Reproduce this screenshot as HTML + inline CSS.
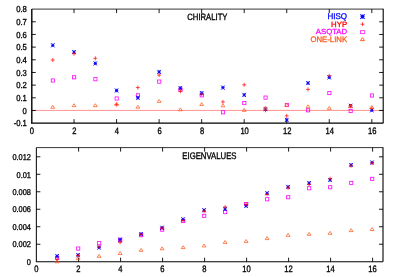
<!DOCTYPE html>
<html><head><meta charset="utf-8"><title>chart</title><style>html,body{margin:0;padding:0;background:#fff}body{width:396px;height:277px;overflow:hidden}.t,.t text{font-family:"Liberation Sans",sans-serif}</style></head><body>
<svg width="396" height="277" viewBox="0 0 396 277" style="display:block;filter:blur(0.25px)">
<rect width="396" height="277" fill="#fff"/>
<g class="t" font-size="7.45" fill="#000" stroke="#000" stroke-width="0.28" paint-order="stroke" text-rendering="geometricPrecision">
<text transform="translate(26.90,12.30) scale(1,1.13)" text-anchor="end" font-size="7.7">0.8</text>
<text transform="translate(26.90,24.97) scale(1,1.13)" text-anchor="end" font-size="7.7">0.7</text>
<text transform="translate(26.90,37.64) scale(1,1.13)" text-anchor="end" font-size="7.7">0.6</text>
<text transform="translate(26.90,50.32) scale(1,1.13)" text-anchor="end" font-size="7.7">0.5</text>
<text transform="translate(26.90,62.99) scale(1,1.13)" text-anchor="end" font-size="7.7">0.4</text>
<text transform="translate(26.90,75.66) scale(1,1.13)" text-anchor="end" font-size="7.7">0.3</text>
<text transform="translate(26.90,88.33) scale(1,1.13)" text-anchor="end" font-size="7.7">0.2</text>
<text transform="translate(26.90,101.01) scale(1,1.13)" text-anchor="end" font-size="7.7">0.1</text>
<text transform="translate(26.90,113.68) scale(1,1.13)" text-anchor="end" font-size="7.7">0</text>
<text transform="translate(26.90,126.35) scale(1,1.13)" text-anchor="end" font-size="7.7">-0.1</text>
<text transform="translate(31.90,133.70) scale(1,1.22)" text-anchor="middle" font-size="7.6" stroke-width="0.27">0</text>
<text transform="translate(74.44,133.70) scale(1,1.22)" text-anchor="middle" font-size="7.6" stroke-width="0.27">2</text>
<text transform="translate(116.98,133.70) scale(1,1.22)" text-anchor="middle" font-size="7.6" stroke-width="0.27">4</text>
<text transform="translate(159.52,133.70) scale(1,1.22)" text-anchor="middle" font-size="7.6" stroke-width="0.27">6</text>
<text transform="translate(202.06,133.70) scale(1,1.22)" text-anchor="middle" font-size="7.6" stroke-width="0.27">8</text>
<text transform="translate(244.60,133.70) scale(1,1.22)" text-anchor="middle" font-size="7.6" stroke-width="0.27">10</text>
<text transform="translate(287.14,133.70) scale(1,1.22)" text-anchor="middle" font-size="7.6" stroke-width="0.27">12</text>
<text transform="translate(329.68,133.70) scale(1,1.22)" text-anchor="middle" font-size="7.6" stroke-width="0.27">14</text>
<text transform="translate(372.22,133.70) scale(1,1.22)" text-anchor="middle" font-size="7.6" stroke-width="0.27">16</text>
<text transform="translate(207.40,19.60) scale(1,1.18)" text-anchor="middle" font-size="7.7">CHIRALITY</text>
<text transform="translate(31.00,264.90) scale(1,1.13)" text-anchor="end">0</text>
<text transform="translate(31.00,247.42) scale(1,1.13)" text-anchor="end">0.002</text>
<text transform="translate(31.00,229.94) scale(1,1.13)" text-anchor="end">0.004</text>
<text transform="translate(31.00,212.46) scale(1,1.13)" text-anchor="end">0.006</text>
<text transform="translate(31.00,194.98) scale(1,1.13)" text-anchor="end">0.008</text>
<text transform="translate(31.00,177.50) scale(1,1.13)" text-anchor="end">0.01</text>
<text transform="translate(31.00,160.02) scale(1,1.13)" text-anchor="end">0.012</text>
<text transform="translate(36.40,272.30) scale(1,1.22)" text-anchor="middle" font-size="7.6" stroke-width="0.27">0</text>
<text transform="translate(78.40,272.30) scale(1,1.22)" text-anchor="middle" font-size="7.6" stroke-width="0.27">2</text>
<text transform="translate(120.40,272.30) scale(1,1.22)" text-anchor="middle" font-size="7.6" stroke-width="0.27">4</text>
<text transform="translate(162.40,272.30) scale(1,1.22)" text-anchor="middle" font-size="7.6" stroke-width="0.27">6</text>
<text transform="translate(204.40,272.30) scale(1,1.22)" text-anchor="middle" font-size="7.6" stroke-width="0.27">8</text>
<text transform="translate(246.40,272.30) scale(1,1.22)" text-anchor="middle" font-size="7.6" stroke-width="0.27">10</text>
<text transform="translate(288.40,272.30) scale(1,1.22)" text-anchor="middle" font-size="7.6" stroke-width="0.27">12</text>
<text transform="translate(330.40,272.30) scale(1,1.22)" text-anchor="middle" font-size="7.6" stroke-width="0.27">14</text>
<text transform="translate(372.40,272.30) scale(1,1.22)" text-anchor="middle" font-size="7.6" stroke-width="0.27">16</text>
<text transform="translate(209.40,158.60) scale(1,1.22)" text-anchor="middle" font-size="7.77">EIGENVALUES</text>
<text transform="translate(347.10,18.70) scale(1,1.04)" text-anchor="end" font-size="8.0" fill="#0000ff" stroke="#0000ff">HISQ</text>
<text transform="translate(347.10,26.80) scale(1,1.0)" text-anchor="end" font-size="7.8" fill="#ff0000" stroke="#ff0000">HYP</text>
<text transform="translate(347.10,33.90) scale(1,0.96)" text-anchor="end" font-size="7.75" fill="#ff00ff" stroke="#ff00ff">ASQTAD</text>
<text transform="translate(347.10,41.50) scale(1,1.02)" text-anchor="end" font-size="7.75" fill="#ff5a1e" stroke="#ff5a1e">ONE-LINK</text>
</g>
<path d="M31.8 110.4H383.2" stroke="#ff2020" stroke-width="0.5" fill="none"/>
<path d="M31.8 9.1V123.15" stroke="#000" stroke-width="1.4" fill="none"/><path d="M31.1 123.15H383.2" stroke="#000" stroke-width="1.4" fill="none"/><path d="M31.8 9.1H383.2" stroke="#000" stroke-width="0.8" fill="none"/><path d="M383.2 8.7V123.15" stroke="#000" stroke-width="1.1" fill="none"/><path d="M31.8 21.77h4M383.2 21.77h-4M31.8 34.44h4M383.2 34.44h-4M31.8 47.12h4M383.2 47.12h-4M31.8 59.79h4M383.2 59.79h-4M31.8 72.46h4M383.2 72.46h-4M31.8 85.13h4M383.2 85.13h-4M31.8 97.81h4M383.2 97.81h-4M31.8 110.48h4M383.2 110.48h-4M74.04 123.15v-4M74.04 9.1v4M116.58 123.15v-4M116.58 9.1v4M159.12 123.15v-4M159.12 9.1v4M201.66 123.15v-4M201.66 9.1v4M244.20 123.15v-4M244.20 9.1v4M286.74 123.15v-4M286.74 9.1v4M329.28 123.15v-4M329.28 9.1v4M371.82 123.15v-4M371.82 9.1v4" stroke="#000" stroke-width="0.9" fill="none"/>
<path d="M36.35 147.6V261.7" stroke="#000" stroke-width="1.0" fill="none"/><path d="M35.85 261.7H383.0" stroke="#000" stroke-width="1.05" fill="none"/><path d="M36.35 147.6H383.0" stroke="#000" stroke-width="0.8" fill="none"/><path d="M383.0 147.2V261.7" stroke="#000" stroke-width="1.1" fill="none"/><path d="M36.35 244.22h4M383.0 244.22h-4M36.35 226.74h4M383.0 226.74h-4M36.35 209.26h4M383.0 209.26h-4M36.35 191.78h4M383.0 191.78h-4M36.35 174.30h4M383.0 174.30h-4M36.35 156.82h4M383.0 156.82h-4M78.60 261.7v-4M78.60 147.6v4M120.60 261.7v-4M120.60 147.6v4M162.60 261.7v-4M162.60 147.6v4M204.60 261.7v-4M204.60 147.6v4M246.60 261.7v-4M246.60 147.6v4M288.60 261.7v-4M288.60 147.6v4M330.60 261.7v-4M330.60 147.6v4M372.60 261.7v-4M372.60 147.6v4" stroke="#000" stroke-width="0.9" fill="none"/>
<rect x="51.27" y="78.90" width="3.20" height="3.20" stroke="#ff00ff" stroke-width="0.8" fill="none"/>
<path d="M51.07 45.30H54.47M52.77 43.60V47.00" stroke="#0000ff" stroke-width="0.9" fill="none"/><path d="M51.07 43.26L54.47 47.34M51.07 47.34L54.47 43.26" stroke="#0000ff" stroke-width="0.95" fill="none"/>
<path d="M50.77 60.00H54.77M52.77 58.00V62.00" stroke="#ff0000" stroke-width="0.7" fill="none"/>
<path d="M52.77 105.34L54.72 108.27H50.82Z" stroke="#ff5a1e" stroke-width="0.75" fill="none"/>
<rect x="72.54" y="75.70" width="3.20" height="3.20" stroke="#ff00ff" stroke-width="0.8" fill="none"/>
<path d="M72.34 52.10H75.74M74.04 50.40V53.80" stroke="#0000ff" stroke-width="0.9" fill="none"/><path d="M72.34 50.06L75.74 54.14M72.34 54.14L75.74 50.06" stroke="#0000ff" stroke-width="0.95" fill="none"/>
<path d="M72.04 53.70H76.04M74.04 51.70V55.70" stroke="#ff0000" stroke-width="0.7" fill="none"/>
<path d="M74.04 103.74L75.99 106.67H72.09Z" stroke="#ff5a1e" stroke-width="0.75" fill="none"/>
<rect x="93.81" y="77.60" width="3.20" height="3.20" stroke="#ff00ff" stroke-width="0.8" fill="none"/>
<path d="M93.61 63.40H97.01M95.31 61.70V65.10" stroke="#0000ff" stroke-width="0.9" fill="none"/><path d="M93.61 61.36L97.01 65.44M93.61 65.44L97.01 61.36" stroke="#0000ff" stroke-width="0.95" fill="none"/>
<path d="M93.31 58.30H97.31M95.31 56.30V60.30" stroke="#ff0000" stroke-width="0.7" fill="none"/>
<path d="M95.31 103.74L97.26 106.67H93.36Z" stroke="#ff5a1e" stroke-width="0.75" fill="none"/>
<rect x="115.08" y="96.90" width="3.20" height="3.20" stroke="#ff00ff" stroke-width="0.8" fill="none"/>
<path d="M114.88 90.50H118.28M116.58 88.80V92.20" stroke="#0000ff" stroke-width="0.9" fill="none"/><path d="M114.88 88.46L118.28 92.54M114.88 92.54L118.28 88.46" stroke="#0000ff" stroke-width="0.95" fill="none"/>
<path d="M114.58 104.60H118.58M116.58 102.60V106.60" stroke="#ff0000" stroke-width="0.7" fill="none"/>
<path d="M116.58 102.34L118.53 105.27H114.63Z" stroke="#ff5a1e" stroke-width="0.75" fill="none"/>
<rect x="136.35" y="93.70" width="3.20" height="3.20" stroke="#ff00ff" stroke-width="0.8" fill="none"/>
<path d="M136.15 97.80H139.55M137.85 96.10V99.50" stroke="#0000ff" stroke-width="0.9" fill="none"/><path d="M136.15 95.76L139.55 99.84M136.15 99.84L139.55 95.76" stroke="#0000ff" stroke-width="0.95" fill="none"/>
<path d="M135.85 87.60H139.85M137.85 85.60V89.60" stroke="#ff0000" stroke-width="0.7" fill="none"/>
<path d="M137.85 105.24L139.80 108.17H135.90Z" stroke="#ff5a1e" stroke-width="0.75" fill="none"/>
<rect x="157.62" y="80.00" width="3.20" height="3.20" stroke="#ff00ff" stroke-width="0.8" fill="none"/>
<path d="M157.42 71.90H160.82M159.12 70.20V73.60" stroke="#0000ff" stroke-width="0.9" fill="none"/><path d="M157.42 69.86L160.82 73.94M157.42 73.94L160.82 69.86" stroke="#0000ff" stroke-width="0.95" fill="none"/>
<path d="M157.12 75.10H161.12M159.12 73.10V77.10" stroke="#ff0000" stroke-width="0.7" fill="none"/>
<path d="M159.12 99.44L161.07 102.37H157.17Z" stroke="#ff5a1e" stroke-width="0.75" fill="none"/>
<rect x="178.89" y="88.10" width="3.20" height="3.20" stroke="#ff00ff" stroke-width="0.8" fill="none"/>
<path d="M178.69 88.10H182.09M180.39 86.40V89.80" stroke="#0000ff" stroke-width="0.9" fill="none"/><path d="M178.69 86.06L182.09 90.14M178.69 90.14L182.09 86.06" stroke="#0000ff" stroke-width="0.95" fill="none"/>
<path d="M178.39 91.30H182.39M180.39 89.30V93.30" stroke="#ff0000" stroke-width="0.7" fill="none"/>
<path d="M180.39 107.84L182.34 110.77H178.44Z" stroke="#ff5a1e" stroke-width="0.75" fill="none"/>
<rect x="200.16" y="93.70" width="3.20" height="3.20" stroke="#ff00ff" stroke-width="0.8" fill="none"/>
<path d="M199.96 93.10H203.36M201.66 91.40V94.80" stroke="#0000ff" stroke-width="0.9" fill="none"/><path d="M199.96 91.06L203.36 95.14M199.96 95.14L203.36 91.06" stroke="#0000ff" stroke-width="0.95" fill="none"/>
<path d="M199.66 94.20H203.66M201.66 92.20V96.20" stroke="#ff0000" stroke-width="0.7" fill="none"/>
<path d="M201.66 102.54L203.61 105.47H199.71Z" stroke="#ff5a1e" stroke-width="0.75" fill="none"/>
<rect x="221.43" y="110.70" width="3.20" height="3.20" stroke="#ff00ff" stroke-width="0.8" fill="none"/>
<path d="M221.23 87.60H224.63M222.93 85.90V89.30" stroke="#0000ff" stroke-width="0.9" fill="none"/><path d="M221.23 85.56L224.63 89.64M221.23 89.64L224.63 85.56" stroke="#0000ff" stroke-width="0.95" fill="none"/>
<path d="M220.93 101.90H224.93M222.93 99.90V103.90" stroke="#ff0000" stroke-width="0.7" fill="none"/>
<path d="M222.93 103.94L224.88 106.87H220.98Z" stroke="#ff5a1e" stroke-width="0.75" fill="none"/>
<rect x="242.70" y="101.50" width="3.20" height="3.20" stroke="#ff00ff" stroke-width="0.8" fill="none"/>
<path d="M242.50 94.90H245.90M244.20 93.20V96.60" stroke="#0000ff" stroke-width="0.9" fill="none"/><path d="M242.50 92.86L245.90 96.94M242.50 96.94L245.90 92.86" stroke="#0000ff" stroke-width="0.95" fill="none"/>
<path d="M242.20 84.80H246.20M244.20 82.80V86.80" stroke="#ff0000" stroke-width="0.7" fill="none"/>
<path d="M244.20 108.44L246.15 111.37H242.25Z" stroke="#ff5a1e" stroke-width="0.75" fill="none"/>
<rect x="263.97" y="96.00" width="3.20" height="3.20" stroke="#ff00ff" stroke-width="0.8" fill="none"/>
<path d="M263.77 109.10H267.17M265.47 107.40V110.80" stroke="#0000ff" stroke-width="0.9" fill="none"/><path d="M263.77 107.06L267.17 111.14M263.77 111.14L267.17 107.06" stroke="#0000ff" stroke-width="0.95" fill="none"/>
<path d="M263.47 110.30H267.47M265.47 108.30V112.30" stroke="#ff0000" stroke-width="0.7" fill="none"/>
<path d="M265.47 106.14L267.42 109.07H263.52Z" stroke="#ff5a1e" stroke-width="0.75" fill="none"/>
<rect x="285.24" y="103.40" width="3.20" height="3.20" stroke="#ff00ff" stroke-width="0.8" fill="none"/>
<path d="M285.04 119.90H288.44M286.74 118.20V121.60" stroke="#0000ff" stroke-width="0.9" fill="none"/><path d="M285.04 117.86L288.44 121.94M285.04 121.94L288.44 117.86" stroke="#0000ff" stroke-width="0.95" fill="none"/>
<path d="M284.74 115.90H288.74M286.74 113.90V117.90" stroke="#ff0000" stroke-width="0.7" fill="none"/>
<path d="M286.74 103.34L288.69 106.27H284.79Z" stroke="#ff5a1e" stroke-width="0.75" fill="none"/>
<rect x="306.51" y="108.70" width="3.20" height="3.20" stroke="#ff00ff" stroke-width="0.8" fill="none"/>
<path d="M306.31 83.10H309.71M308.01 81.40V84.80" stroke="#0000ff" stroke-width="0.9" fill="none"/><path d="M306.31 81.06L309.71 85.14M306.31 85.14L309.71 81.06" stroke="#0000ff" stroke-width="0.95" fill="none"/>
<path d="M306.01 89.40H310.01M308.01 87.40V91.40" stroke="#ff0000" stroke-width="0.7" fill="none"/>
<path d="M308.01 104.84L309.96 107.77H306.06Z" stroke="#ff5a1e" stroke-width="0.75" fill="none"/>
<rect x="327.78" y="91.50" width="3.20" height="3.20" stroke="#ff00ff" stroke-width="0.8" fill="none"/>
<path d="M327.58 77.40H330.98M329.28 75.70V79.10" stroke="#0000ff" stroke-width="0.9" fill="none"/><path d="M327.58 75.36L330.98 79.44M327.58 79.44L330.98 75.36" stroke="#0000ff" stroke-width="0.95" fill="none"/>
<path d="M327.28 75.80H331.28M329.28 73.80V77.80" stroke="#ff0000" stroke-width="0.7" fill="none"/>
<path d="M329.28 106.44L331.23 109.37H327.33Z" stroke="#ff5a1e" stroke-width="0.75" fill="none"/>
<rect x="349.05" y="109.40" width="3.20" height="3.20" stroke="#ff00ff" stroke-width="0.8" fill="none"/>
<path d="M348.85 105.80H352.25M350.55 104.10V107.50" stroke="#0000ff" stroke-width="0.9" fill="none"/><path d="M348.85 103.76L352.25 107.84M348.85 107.84L352.25 103.76" stroke="#0000ff" stroke-width="0.95" fill="none"/>
<path d="M348.55 106.00H352.55M350.55 104.00V108.00" stroke="#ff0000" stroke-width="0.7" fill="none"/>
<path d="M350.55 104.84L352.50 107.77H348.60Z" stroke="#ff5a1e" stroke-width="0.75" fill="none"/>
<rect x="370.32" y="93.90" width="3.20" height="3.20" stroke="#ff00ff" stroke-width="0.8" fill="none"/>
<path d="M370.12 110.30H373.52M371.82 108.60V112.00" stroke="#0000ff" stroke-width="0.9" fill="none"/><path d="M370.12 108.26L373.52 112.34M370.12 112.34L373.52 108.26" stroke="#0000ff" stroke-width="0.95" fill="none"/>
<path d="M369.82 108.50H373.82M371.82 106.50V110.50" stroke="#ff0000" stroke-width="0.7" fill="none"/>
<path d="M371.82 105.44L373.77 108.37H369.87Z" stroke="#ff5a1e" stroke-width="0.75" fill="none"/>
<rect x="55.60" y="256.35" width="3.20" height="3.20" stroke="#ff00ff" stroke-width="0.8" fill="none"/>
<path d="M55.40 256.15H58.80M57.10 254.45V257.85" stroke="#0000ff" stroke-width="0.9" fill="none"/><path d="M55.40 254.11L58.80 258.19M55.40 258.19L58.80 254.11" stroke="#0000ff" stroke-width="0.95" fill="none"/>
<path d="M55.10 259.25H59.10M57.10 257.25V261.25" stroke="#ff0000" stroke-width="0.7" fill="none"/>
<path d="M57.10 259.84L59.05 262.77H55.15Z" stroke="#ff5a1e" stroke-width="0.75" fill="none"/>
<rect x="76.60" y="246.95" width="3.20" height="3.20" stroke="#ff00ff" stroke-width="0.8" fill="none"/>
<path d="M76.40 255.15H79.80M78.10 253.45V256.85" stroke="#0000ff" stroke-width="0.9" fill="none"/><path d="M76.40 253.11L79.80 257.19M76.40 257.19L79.80 253.11" stroke="#0000ff" stroke-width="0.95" fill="none"/>
<path d="M76.10 255.45H80.10M78.10 253.45V257.45" stroke="#ff0000" stroke-width="0.7" fill="none"/>
<path d="M78.10 256.69L80.05 259.62H76.15Z" stroke="#ff5a1e" stroke-width="0.75" fill="none"/>
<rect x="97.60" y="241.55" width="3.20" height="3.20" stroke="#ff00ff" stroke-width="0.8" fill="none"/>
<path d="M97.40 247.55H100.80M99.10 245.85V249.25" stroke="#0000ff" stroke-width="0.9" fill="none"/><path d="M97.40 245.51L100.80 249.59M97.40 249.59L100.80 245.51" stroke="#0000ff" stroke-width="0.95" fill="none"/>
<path d="M97.10 246.75H101.10M99.10 244.75V248.75" stroke="#ff0000" stroke-width="0.7" fill="none"/>
<path d="M99.10 254.39L101.05 257.32H97.15Z" stroke="#ff5a1e" stroke-width="0.75" fill="none"/>
<rect x="118.60" y="238.15" width="3.20" height="3.20" stroke="#ff00ff" stroke-width="0.8" fill="none"/>
<path d="M118.40 239.65H121.80M120.10 237.95V241.35" stroke="#0000ff" stroke-width="0.9" fill="none"/><path d="M118.40 237.61L121.80 241.69M118.40 241.69L121.80 237.61" stroke="#0000ff" stroke-width="0.95" fill="none"/>
<path d="M118.10 242.40H122.10M120.10 240.40V244.40" stroke="#ff0000" stroke-width="0.7" fill="none"/>
<path d="M120.10 251.54L122.05 254.47H118.15Z" stroke="#ff5a1e" stroke-width="0.75" fill="none"/>
<rect x="139.60" y="233.60" width="3.20" height="3.20" stroke="#ff00ff" stroke-width="0.8" fill="none"/>
<path d="M139.40 234.10H142.80M141.10 232.40V235.80" stroke="#0000ff" stroke-width="0.9" fill="none"/><path d="M139.40 232.06L142.80 236.14M139.40 236.14L142.80 232.06" stroke="#0000ff" stroke-width="0.95" fill="none"/>
<path d="M139.10 234.60H143.10M141.10 232.60V236.60" stroke="#ff0000" stroke-width="0.7" fill="none"/>
<path d="M141.10 248.39L143.05 251.32H139.15Z" stroke="#ff5a1e" stroke-width="0.75" fill="none"/>
<rect x="160.60" y="228.05" width="3.20" height="3.20" stroke="#ff00ff" stroke-width="0.8" fill="none"/>
<path d="M160.40 227.75H163.80M162.10 226.05V229.45" stroke="#0000ff" stroke-width="0.9" fill="none"/><path d="M160.40 225.71L163.80 229.79M160.40 229.79L163.80 225.71" stroke="#0000ff" stroke-width="0.95" fill="none"/>
<path d="M160.10 228.15H164.10M162.10 226.15V230.15" stroke="#ff0000" stroke-width="0.7" fill="none"/>
<path d="M162.10 246.89L164.05 249.82H160.15Z" stroke="#ff5a1e" stroke-width="0.75" fill="none"/>
<rect x="181.60" y="219.45" width="3.20" height="3.20" stroke="#ff00ff" stroke-width="0.8" fill="none"/>
<path d="M181.40 219.35H184.80M183.10 217.65V221.05" stroke="#0000ff" stroke-width="0.9" fill="none"/><path d="M181.40 217.31L184.80 221.39M181.40 221.39L184.80 217.31" stroke="#0000ff" stroke-width="0.95" fill="none"/>
<path d="M181.10 220.55H185.10M183.10 218.55V222.55" stroke="#ff0000" stroke-width="0.7" fill="none"/>
<path d="M183.10 245.69L185.05 248.62H181.15Z" stroke="#ff5a1e" stroke-width="0.75" fill="none"/>
<rect x="202.60" y="214.25" width="3.20" height="3.20" stroke="#ff00ff" stroke-width="0.8" fill="none"/>
<path d="M202.40 210.25H205.80M204.10 208.55V211.95" stroke="#0000ff" stroke-width="0.9" fill="none"/><path d="M202.40 208.21L205.80 212.29M202.40 212.29L205.80 208.21" stroke="#0000ff" stroke-width="0.95" fill="none"/>
<path d="M202.10 211.25H206.10M204.10 209.25V213.25" stroke="#ff0000" stroke-width="0.7" fill="none"/>
<path d="M204.10 243.99L206.05 246.92H202.15Z" stroke="#ff5a1e" stroke-width="0.75" fill="none"/>
<rect x="223.60" y="210.55" width="3.20" height="3.20" stroke="#ff00ff" stroke-width="0.8" fill="none"/>
<path d="M223.40 208.95H226.80M225.10 207.25V210.65" stroke="#0000ff" stroke-width="0.9" fill="none"/><path d="M223.40 206.91L226.80 210.99M223.40 210.99L226.80 206.91" stroke="#0000ff" stroke-width="0.95" fill="none"/>
<path d="M223.10 207.05H227.10M225.10 205.05V209.05" stroke="#ff0000" stroke-width="0.7" fill="none"/>
<path d="M225.10 240.49L227.05 243.42H223.15Z" stroke="#ff5a1e" stroke-width="0.75" fill="none"/>
<rect x="244.60" y="202.40" width="3.20" height="3.20" stroke="#ff00ff" stroke-width="0.8" fill="none"/>
<path d="M244.40 205.80H247.80M246.10 204.10V207.50" stroke="#0000ff" stroke-width="0.9" fill="none"/><path d="M244.40 203.76L247.80 207.84M244.40 207.84L247.80 203.76" stroke="#0000ff" stroke-width="0.95" fill="none"/>
<path d="M244.10 204.30H248.10M246.10 202.30V206.30" stroke="#ff0000" stroke-width="0.7" fill="none"/>
<path d="M246.10 239.49L248.05 242.42H244.15Z" stroke="#ff5a1e" stroke-width="0.75" fill="none"/>
<rect x="265.60" y="197.65" width="3.20" height="3.20" stroke="#ff00ff" stroke-width="0.8" fill="none"/>
<path d="M265.40 193.25H268.80M267.10 191.55V194.95" stroke="#0000ff" stroke-width="0.9" fill="none"/><path d="M265.40 191.21L268.80 195.29M265.40 195.29L268.80 191.21" stroke="#0000ff" stroke-width="0.95" fill="none"/>
<path d="M265.10 194.45H269.10M267.10 192.45V196.45" stroke="#ff0000" stroke-width="0.7" fill="none"/>
<path d="M267.10 236.69L269.05 239.62H265.15Z" stroke="#ff5a1e" stroke-width="0.75" fill="none"/>
<rect x="286.60" y="195.65" width="3.20" height="3.20" stroke="#ff00ff" stroke-width="0.8" fill="none"/>
<path d="M286.40 186.95H289.80M288.10 185.25V188.65" stroke="#0000ff" stroke-width="0.9" fill="none"/><path d="M286.40 184.91L289.80 188.99M286.40 188.99L289.80 184.91" stroke="#0000ff" stroke-width="0.95" fill="none"/>
<path d="M286.10 187.85H290.10M288.10 185.85V189.85" stroke="#ff0000" stroke-width="0.7" fill="none"/>
<path d="M288.10 233.39L290.05 236.32H286.15Z" stroke="#ff5a1e" stroke-width="0.75" fill="none"/>
<rect x="307.60" y="186.65" width="3.20" height="3.20" stroke="#ff00ff" stroke-width="0.8" fill="none"/>
<path d="M307.40 183.05H310.80M309.10 181.35V184.75" stroke="#0000ff" stroke-width="0.9" fill="none"/><path d="M307.40 181.01L310.80 185.09M307.40 185.09L310.80 181.01" stroke="#0000ff" stroke-width="0.95" fill="none"/>
<path d="M307.10 184.45H311.10M309.10 182.45V186.45" stroke="#ff0000" stroke-width="0.7" fill="none"/>
<path d="M309.10 232.39L311.05 235.32H307.15Z" stroke="#ff5a1e" stroke-width="0.75" fill="none"/>
<rect x="328.60" y="185.65" width="3.20" height="3.20" stroke="#ff00ff" stroke-width="0.8" fill="none"/>
<path d="M328.40 179.95H331.80M330.10 178.25V181.65" stroke="#0000ff" stroke-width="0.9" fill="none"/><path d="M328.40 177.91L331.80 181.99M328.40 181.99L331.80 177.91" stroke="#0000ff" stroke-width="0.95" fill="none"/>
<path d="M328.10 178.65H332.10M330.10 176.65V180.65" stroke="#ff0000" stroke-width="0.7" fill="none"/>
<path d="M330.10 231.39L332.05 234.32H328.15Z" stroke="#ff5a1e" stroke-width="0.75" fill="none"/>
<rect x="349.60" y="181.35" width="3.20" height="3.20" stroke="#ff00ff" stroke-width="0.8" fill="none"/>
<path d="M349.40 165.05H352.80M351.10 163.35V166.75" stroke="#0000ff" stroke-width="0.9" fill="none"/><path d="M349.40 163.01L352.80 167.09M349.40 167.09L352.80 163.01" stroke="#0000ff" stroke-width="0.95" fill="none"/>
<path d="M349.10 165.75H353.10M351.10 163.75V167.75" stroke="#ff0000" stroke-width="0.7" fill="none"/>
<path d="M351.10 228.69L353.05 231.62H349.15Z" stroke="#ff5a1e" stroke-width="0.75" fill="none"/>
<rect x="370.60" y="177.25" width="3.20" height="3.20" stroke="#ff00ff" stroke-width="0.8" fill="none"/>
<path d="M370.40 162.55H373.80M372.10 160.85V164.25" stroke="#0000ff" stroke-width="0.9" fill="none"/><path d="M370.40 160.51L373.80 164.59M370.40 164.59L373.80 160.51" stroke="#0000ff" stroke-width="0.95" fill="none"/>
<path d="M370.10 163.25H374.10M372.10 161.25V165.25" stroke="#ff0000" stroke-width="0.7" fill="none"/>
<path d="M372.10 227.59L374.05 230.52H370.15Z" stroke="#ff5a1e" stroke-width="0.75" fill="none"/>
<path d="M360.50 16.60H364.50M362.50 14.60V18.60" stroke="#0000ff" stroke-width="1.0" fill="none"/><path d="M360.40 14.30L364.60 18.90M360.40 18.90L364.60 14.30" stroke="#0000ff" stroke-width="1.1" fill="none"/>
<path d="M360.55 24.20H364.45M362.50 22.25V26.15" stroke="#ff0000" stroke-width="0.7" fill="none"/>
<rect x="360.50" y="30.60" width="4.20" height="3.00" stroke="#ff38ff" stroke-width="0.9" fill="none"/>
<path d="M362.50 37.60L364.50 40.60H360.50Z" stroke="#ff5a1e" stroke-width="0.95" fill="none"/>
</svg>
</body></html>
